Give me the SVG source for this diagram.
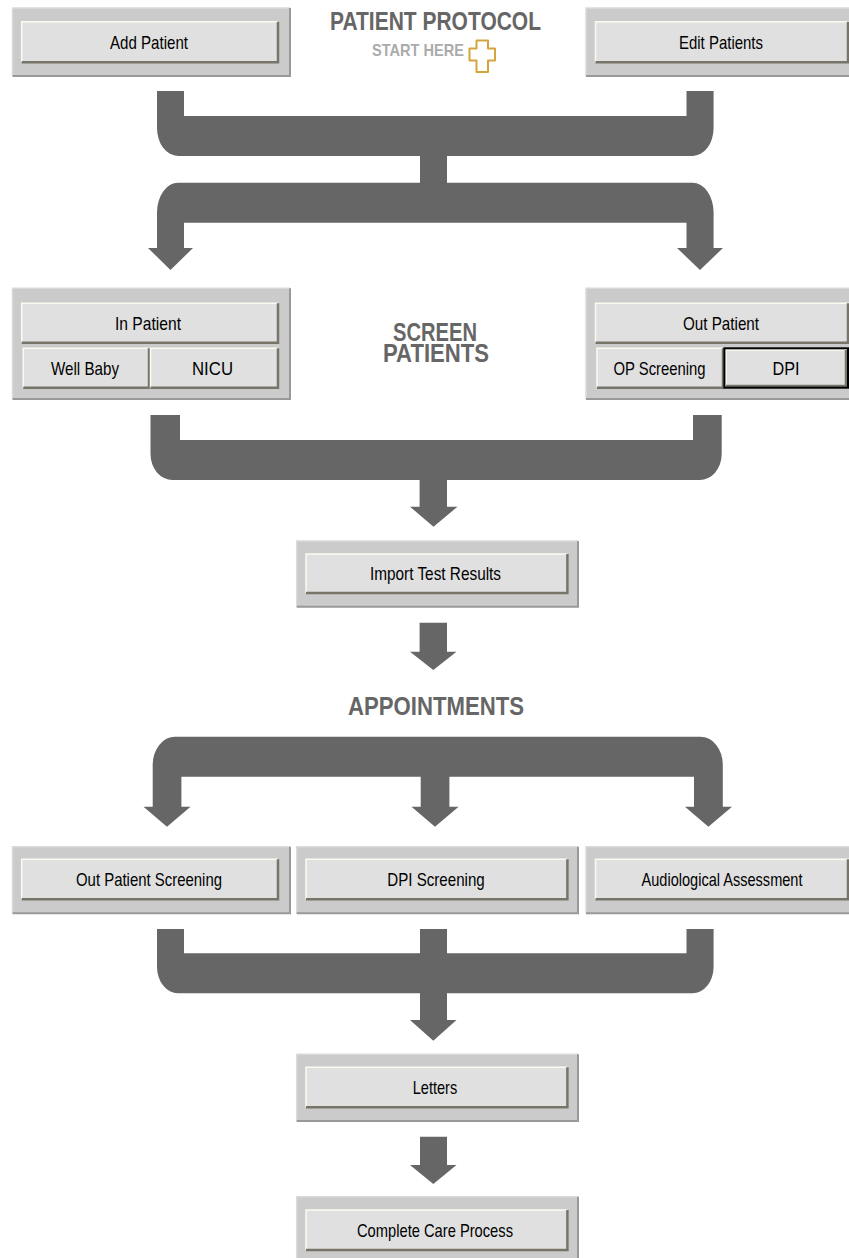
<svg xmlns="http://www.w3.org/2000/svg" width="849" height="1258" viewBox="0 0 849 1258">
<style>
.bg{fill:#ffffff}
.panel{fill:#cbcbcb}
.ptop{stroke:#dadada;stroke-width:1.5;fill:none}
.psh{stroke:#999999;stroke-width:2;fill:none}
.btn{fill:#e0e0e0}
.hl{stroke:#fbfbf2;stroke-width:1.5;fill:none}
.sh{stroke:#77756a;stroke-width:2.5;fill:none}
.focus{stroke:#000000;stroke-width:2;fill:none}
.lbl{font-family:"Liberation Sans",Arial,sans-serif;font-size:19px;fill:#000000;text-anchor:middle}
.head{font-family:"Liberation Sans",Arial,sans-serif;font-weight:bold;fill:#666666;text-anchor:middle}
.conn{fill:#666666}
</style>
<rect class="bg" x="0" y="0" width="849" height="1258"/>

<g id="connectors">
  <path class="conn" d="M157,91 H184 V116 H686.5 V91 H713.6 V128 A21 28 0 0 1 692.6,156 H178 A21 28 0 0 1 157,128 Z"/>
  <rect class="conn" x="420" y="154" width="27" height="31"/>
  <path class="conn" d="M178.5,182.7 H692.6 A21 30 0 0 1 713.6,212.7 V248 H723 L700,270 L677,248 H686.5 V222.7 H184 V248 H193 L170.5,270 L148,248 H157 V212.7 A21 30 0 0 1 178.5,182.7 Z"/>
  <path class="conn" d="M150.5,415 H180 V440 H693 V415 H721.7 V454 A22 26 0 0 1 699.7,480 H447 V506.7 H457.5 L433.5,526.7 L410,506.7 H419.6 V480 H172.5 A22 26 0 0 1 150.5,454 Z"/>
  <path class="conn" d="M419.6,622.7 H447 V651.7 H456.5 L433.3,670 L410,651.7 H419.6 Z"/>
  <path class="conn" d="M175,736.7 H700.5 A22.3 28 0 0 1 722.8,764.7 V806.7 H732 L708.4,826.7 L685,806.7 H694 V776.7 H449.4 V806.7 H458.6 L435,826.7 L411.5,806.7 H420.7 V776.7 H181.4 V806.7 H190.5 L167,826.7 L143.5,806.7 H152.7 V764.7 A22.3 28 0 0 1 175,736.7 Z"/>
  <path class="conn" d="M157,929 H184 V953.3 H420 V929 H447 V953.3 H686.5 V929 H713.6 V967 A21 26.3 0 0 1 692.6,993.3 H447 V1020 H456.5 L433.3,1040.7 L410,1020 H420 V993.3 H178 A21 26.3 0 0 1 157,967 Z"/>
  <path class="conn" d="M420,1136.7 H447 V1165 H456.5 L433.3,1184 L410,1165 H420 Z"/>
</g>

<g id="title">
  <text class="head" x="435.5" y="29.5" font-size="25" textLength="211" lengthAdjust="spacingAndGlyphs">PATIENT PROTOCOL</text>
  <text class="head" x="418" y="56" font-size="17" textLength="92" lengthAdjust="spacingAndGlyphs" style="fill:#ababab">START HERE</text>
  <path d="M476.5,40.5 H488 V48.5 H495 V60.5 H488 V72 H476.5 V60.5 H469.5 V48.5 H476.5 Z" fill="#ffffff" stroke="#d4a53c" stroke-width="2" stroke-linejoin="round"/>
</g>

<g id="screen-patients-label">
  <text class="head" x="435" y="341" font-size="25" textLength="84" lengthAdjust="spacingAndGlyphs">SCREEN</text>
  <text class="head" x="436" y="362" font-size="25" textLength="106" lengthAdjust="spacingAndGlyphs">PATIENTS</text>
</g>

<g id="appointments-label">
  <text class="head" x="436" y="715" font-size="26" textLength="176" lengthAdjust="spacingAndGlyphs">APPOINTMENTS</text>
</g>

<g id="add-patient">
  <rect class="panel" x="12.5" y="8" width="277.5" height="68"/>
  <polyline class="ptop" points="12.5,76 12.5,8 290,8"/>
  <polyline class="psh" points="290,8 290,76 12.5,76"/>
  <rect class="btn" x="21.7" y="21.7" width="256.3" height="40.6"/>
  <polyline class="hl" points="21.7,62.3 21.7,21.7 278,21.7"/>
  <polyline class="sh" points="278,21.7 278,62.3 21.7,62.3"/>
  <text class="lbl" x="149" y="49" textLength="78" lengthAdjust="spacingAndGlyphs">Add Patient</text>
</g>

<g id="edit-patients">
  <rect class="panel" x="586" y="8" width="263" height="68"/>
  <polyline class="ptop" points="586,76 586,8 849,8"/>
  <line class="psh" x1="586" y1="76" x2="849" y2="76"/>
  <rect class="btn" x="595.5" y="21.7" width="253.5" height="40.6"/>
  <polyline class="hl" points="595.5,62.3 595.5,21.7 849,21.7"/>
  <polyline class="sh" points="848,21.7 848,62.3 595.5,62.3"/>
  <text class="lbl" x="721" y="49" textLength="84" lengthAdjust="spacingAndGlyphs">Edit Patients</text>
</g>

<g id="in-patient">
  <rect class="panel" x="12.5" y="288.3" width="277.5" height="110.7"/>
  <polyline class="ptop" points="12.5,399 12.5,288.3 290,288.3"/>
  <polyline class="psh" points="290,288.3 290,399 12.5,399"/>
  <rect class="btn" x="21.7" y="303.3" width="256.3" height="39.4"/>
  <polyline class="hl" points="21.7,342.7 21.7,303.3 278,303.3"/>
  <polyline class="sh" points="278,303.3 278,342.7 21.7,342.7"/>
  <text class="lbl" x="148" y="330" textLength="66" lengthAdjust="spacingAndGlyphs">In Patient</text>
</g>

<g id="well-baby">
  <rect class="btn" x="23.3" y="348.3" width="125.7" height="39.4"/>
  <polyline class="hl" points="23.3,387.7 23.3,348.3 149,348.3"/>
  <polyline class="sh" points="149,348.3 149,387.7 23.3,387.7"/>
  <text class="lbl" x="85" y="375" textLength="68" lengthAdjust="spacingAndGlyphs">Well Baby</text>
</g>

<g id="nicu">
  <rect class="btn" x="150.5" y="348.3" width="127.5" height="39.4"/>
  <polyline class="hl" points="150.5,387.7 150.5,348.3 278,348.3"/>
  <polyline class="sh" points="278,348.3 278,387.7 150.5,387.7"/>
  <text class="lbl" x="212.5" y="375" textLength="41" lengthAdjust="spacingAndGlyphs">NICU</text>
</g>

<g id="out-patient">
  <rect class="panel" x="586" y="288.3" width="263" height="110.7"/>
  <polyline class="ptop" points="586,399 586,288.3 849,288.3"/>
  <line class="psh" x1="586" y1="399" x2="849" y2="399"/>
  <rect class="btn" x="595.5" y="303.3" width="253.5" height="39.4"/>
  <polyline class="hl" points="595.5,342.7 595.5,303.3 849,303.3"/>
  <polyline class="sh" points="848,303.3 848,342.7 595.5,342.7"/>
  <text class="lbl" x="721" y="330" textLength="76" lengthAdjust="spacingAndGlyphs">Out Patient</text>
</g>

<g id="op-screening">
  <rect class="btn" x="597" y="348.3" width="126" height="39.4"/>
  <polyline class="hl" points="597,387.7 597,348.3 723,348.3"/>
  <polyline class="sh" points="723,348.3 723,387.7 597,387.7"/>
  <text class="lbl" x="659.5" y="375" textLength="92" lengthAdjust="spacingAndGlyphs">OP Screening</text>
</g>

<g id="dpi">
  <rect class="btn" x="724.4" y="348.3" width="124.6" height="39.4"/>
  <polyline class="hl" points="726,386 726,350 847,350"/>
  <polyline class="sh" points="846,350 846,386 726,386"/>
  <rect class="focus" x="724.4" y="348.3" width="123.6" height="39.4"/>
  <text class="lbl" x="786" y="375" textLength="27" lengthAdjust="spacingAndGlyphs">DPI</text>
</g>

<g id="import-test-results">
  <rect class="panel" x="296.7" y="541" width="281.3" height="65.7"/>
  <polyline class="ptop" points="296.7,606.7 296.7,541 578,541"/>
  <polyline class="psh" points="578,541 578,606.7 296.7,606.7"/>
  <rect class="btn" x="306" y="554" width="261.4" height="39"/>
  <polyline class="hl" points="306,593 306,554 567.4,554"/>
  <polyline class="sh" points="567.4,554 567.4,593 306,593"/>
  <text class="lbl" x="435.5" y="580" textLength="131" lengthAdjust="spacingAndGlyphs">Import Test Results</text>
</g>

<g id="out-patient-screening">
  <rect class="panel" x="12.5" y="846.7" width="277.5" height="66.6"/>
  <polyline class="ptop" points="12.5,913.3 12.5,846.7 290,846.7"/>
  <polyline class="psh" points="290,846.7 290,913.3 12.5,913.3"/>
  <rect class="btn" x="21.7" y="859.3" width="256.3" height="40"/>
  <polyline class="hl" points="21.7,899.3 21.7,859.3 278,859.3"/>
  <polyline class="sh" points="278,859.3 278,899.3 21.7,899.3"/>
  <text class="lbl" x="149" y="886" textLength="146" lengthAdjust="spacingAndGlyphs">Out Patient Screening</text>
</g>

<g id="dpi-screening">
  <rect class="panel" x="296.7" y="846.7" width="281.3" height="66.6"/>
  <polyline class="ptop" points="296.7,913.3 296.7,846.7 578,846.7"/>
  <polyline class="psh" points="578,846.7 578,913.3 296.7,913.3"/>
  <rect class="btn" x="306" y="859.3" width="261.4" height="40"/>
  <polyline class="hl" points="306,899.3 306,859.3 567.4,859.3"/>
  <polyline class="sh" points="567.4,859.3 567.4,899.3 306,899.3"/>
  <text class="lbl" x="436" y="886" textLength="97.5" lengthAdjust="spacingAndGlyphs">DPI Screening</text>
</g>

<g id="audiological-assessment">
  <rect class="panel" x="586" y="846.7" width="263" height="66.6"/>
  <polyline class="ptop" points="586,913.3 586,846.7 849,846.7"/>
  <line class="psh" x1="586" y1="913.3" x2="849" y2="913.3"/>
  <rect class="btn" x="595.5" y="859.3" width="253.5" height="40"/>
  <polyline class="hl" points="595.5,899.3 595.5,859.3 849,859.3"/>
  <polyline class="sh" points="848,859.3 848,899.3 595.5,899.3"/>
  <text class="lbl" x="722" y="886" textLength="161" lengthAdjust="spacingAndGlyphs">Audiological Assessment</text>
</g>

<g id="letters">
  <rect class="panel" x="296.7" y="1054.3" width="281.3" height="66.7"/>
  <polyline class="ptop" points="296.7,1121 296.7,1054.3 578,1054.3"/>
  <polyline class="psh" points="578,1054.3 578,1121 296.7,1121"/>
  <rect class="btn" x="306" y="1067.3" width="261.4" height="40"/>
  <polyline class="hl" points="306,1107.3 306,1067.3 567.4,1067.3"/>
  <polyline class="sh" points="567.4,1067.3 567.4,1107.3 306,1107.3"/>
  <text class="lbl" x="435" y="1094" textLength="44.5" lengthAdjust="spacingAndGlyphs">Letters</text>
</g>

<g id="complete-care-process">
  <rect class="panel" x="296.7" y="1196.7" width="281.3" height="61.3"/>
  <polyline class="ptop" points="296.7,1258 296.7,1196.7 578,1196.7"/>
  <line class="psh" x1="578" y1="1196.7" x2="578" y2="1258"/>
  <rect class="btn" x="306" y="1210" width="261.4" height="40"/>
  <polyline class="hl" points="306,1250 306,1210 567.4,1210"/>
  <polyline class="sh" points="567.4,1210 567.4,1250 306,1250"/>
  <text class="lbl" x="435" y="1237" textLength="156" lengthAdjust="spacingAndGlyphs">Complete Care Process</text>
</g>
</svg>
